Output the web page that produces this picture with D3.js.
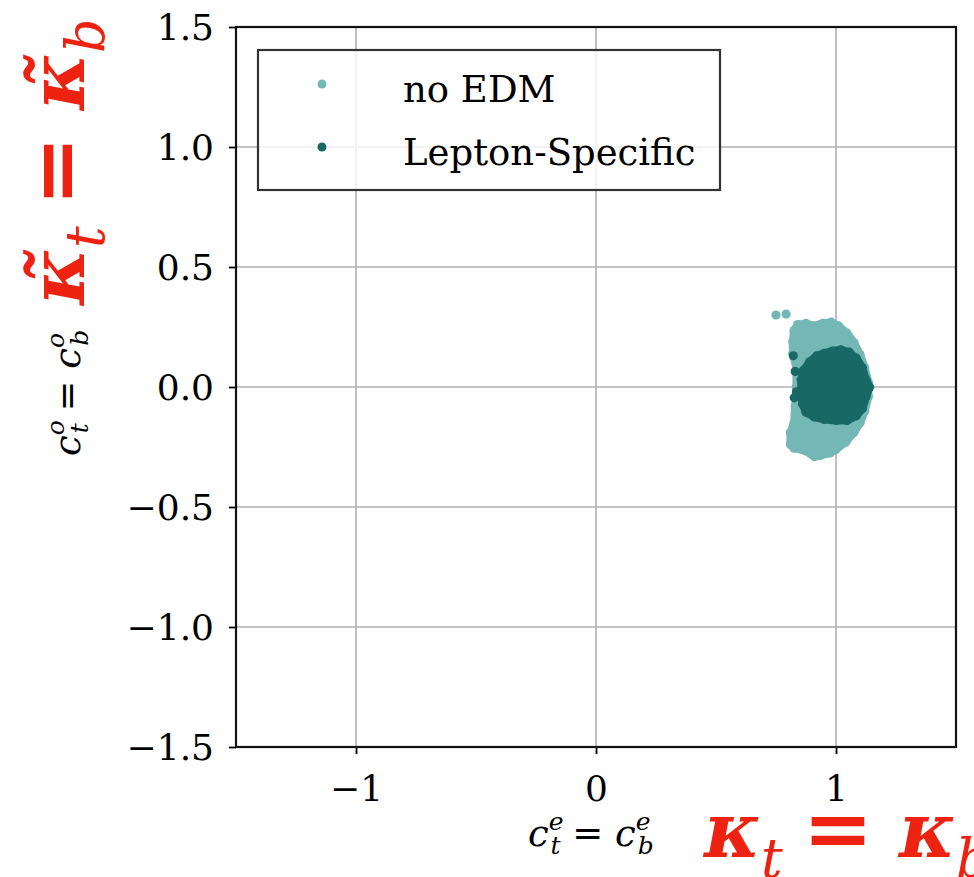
<!DOCTYPE html>
<html><head><meta charset="utf-8">
<script src="https://cdn.jsdelivr.net/npm/d3@7"></script>
<style>body{margin:0;background:#fff}svg{display:block}</style>
</head><body>
<svg id="c" width="974" height="877"></svg>
<script>
// ---- data ----
const xTicks = [-1, 0, 1];
const yTicks = [-1.5, -1.0, -0.5, 0.0, 0.5, 1.0, 1.5];
const yTickLabels = ["\u22121.5", "\u22121.0", "\u22120.5", "0.0", "0.5", "1.0", "1.5"];
const xTickLabels = ["\u22121", "0", "1"];
const seriesNames = ["no EDM", "Lepton-Specific"];
const seriesColors = ["#74b8b6", "#186965"];
// outline of the dense point cloud (marker centres), clockwise
const noEdmOutline = [[0.84,0.26],[0.875,0.265],[0.905,0.255],[0.945,0.265],[0.98,0.27],[1.01,0.255],[1.045,0.225],[1.075,0.185],[1.10,0.135],[1.12,0.08],[1.135,0.02],[1.135,-0.04],[1.12,-0.10],[1.10,-0.15],[1.075,-0.19],[1.04,-0.23],[1.0,-0.26],[0.975,-0.275],[0.935,-0.285],[0.91,-0.29],[0.87,-0.265],[0.825,-0.255],[0.81,-0.24],[0.81,-0.19],[0.825,-0.15],[0.83,-0.08],[0.835,0.0],[0.835,0.08],[0.82,0.14],[0.82,0.19],[0.825,0.235]];
const noEdmExtra = [[0.75,0.30],[0.792,0.304]];
const leptonOutline = [[0.95,0.14],[0.985,0.15],[1.02,0.155],[1.055,0.145],[1.085,0.12],[1.11,0.08],[1.125,0.03],[1.14,0.0],[1.125,-0.04],[1.11,-0.09],[1.085,-0.12],[1.045,-0.14],[1.0,-0.14],[0.95,-0.135],[0.91,-0.125],[0.875,-0.105],[0.86,-0.07],[0.855,-0.02],[0.855,0.03],[0.865,0.07],[0.89,0.105],[0.92,0.13]];
const leptonExtra = [[0.822,0.13],[0.83,0.065],[0.826,-0.045],[0.835,-0.02]];

// ---- layout ----
const L = 236, R = 956, T = 27, B = 747;
const svg = d3.select("#c");
const x = d3.scaleLinear().domain([-1.5, 1.5]).range([L, R]);
const y = d3.scaleLinear().domain([-1.5, 1.5]).range([B, T]);
const serif = "'DejaVu Serif', 'Liberation Serif', serif";

// grid
const g = svg.append("g");
g.selectAll(".gx").data(xTicks).enter().append("line")
  .attr("x1", d => x(d)).attr("x2", d => x(d)).attr("y1", T).attr("y2", B)
  .attr("stroke", "#b0b0b0").attr("stroke-width", 1.6);
g.selectAll(".gy").data(yTicks).enter().append("line")
  .attr("y1", d => y(d)).attr("y2", d => y(d)).attr("x1", L).attr("x2", R)
  .attr("stroke", "#b0b0b0").attr("stroke-width", 1.6);

// clouds
const line = d3.line().x(d => x(d[0])).y(d => y(d[1])).curve(d3.curveLinearClosed);
function cloud(outline, extra, color) {
  const cg = svg.append("g");
  cg.append("path").attr("d", line(outline)).attr("fill", color)
    .attr("stroke", color).attr("stroke-width", 8).attr("stroke-linejoin", "round");
  cg.selectAll("circle").data(outline.concat(extra)).enter().append("circle")
    .attr("cx", d => x(d[0])).attr("cy", d => y(d[1])).attr("r", 4.6).attr("fill", color);
}
cloud(noEdmOutline, noEdmExtra, seriesColors[0]);
cloud(leptonOutline, leptonExtra, seriesColors[1]);

// axes
const xAxis = d3.axisBottom(x).tickValues(xTicks).tickSize(7).tickFormat((d, i) => xTickLabels[i]);
const yAxis = d3.axisLeft(y).tickValues(yTicks).tickSize(7).tickFormat((d, i) => yTickLabels[i]);
const ax = svg.append("g").attr("transform", `translate(0,${B})`).call(xAxis);
const ay = svg.append("g").attr("transform", `translate(${L},0)`).call(yAxis);
[ax, ay].forEach(a => {
  a.select(".domain").remove();
  a.selectAll(".tick line").attr("stroke", "#000").attr("stroke-width", 1.8);
  a.selectAll(".tick text").attr("font-family", serif).attr("font-size", 36).attr("fill", "#000");
});
ax.selectAll(".tick text").attr("dy", null).attr("y", 54);
ay.selectAll(".tick text").attr("x", -22).attr("dy", "0.36em");
// spines
svg.append("rect").attr("x", L).attr("y", T).attr("width", R - L).attr("height", B - T)
  .attr("fill", "none").attr("stroke", "#111").attr("stroke-width", 2.2);

// legend
const lg = svg.append("g");
lg.append("rect").attr("x", 258).attr("y", 50).attr("width", 462).attr("height", 140)
  .attr("fill", "#fff").attr("fill-opacity", 0.8).attr("stroke", "#333").attr("stroke-width", 2.2);
seriesNames.forEach((n, i) => {
  const cy = 84 + i * 63;
  lg.append("circle").attr("cx", 322).attr("cy", cy).attr("r", 4.5).attr("fill", seriesColors[i]);
  lg.append("text").attr("x", 403).attr("y", cy + 18).text(n)
    .attr("font-family", serif).attr("font-size", 37).attr("fill", "#000");
});

// axis labels (math style)
function mathLabel(parent, sup) {
  const t = parent.append("text").attr("font-family", serif).attr("font-size", 37).attr("fill", "#000");
  const add = (s, opts) => {
    const ts = t.append("tspan").text(s);
    if (opts.italic) ts.attr("font-style", "italic");
    if (opts.size) ts.attr("font-size", opts.size);
    if (opts.dy) ts.attr("dy", opts.dy);
    if (opts.dx) ts.attr("dx", opts.dx);
    return ts;
  };
  add("c", {italic: true});
  add(sup, {italic: true, size: 25, dy: -16});
  add("t", {italic: true, size: 25, dy: 24, dx: -13});
  add(" = ", {dy: -8});
  add("c", {italic: true});
  add(sup, {italic: true, size: 25, dy: -16});
  add("b", {italic: true, size: 25, dy: 24, dx: -13});
  return t;
}
mathLabel(svg.append("g").attr("transform", "translate(528,846)"), "e");
mathLabel(svg.append("g").attr("transform", "translate(80,456) rotate(-90)"), "o");

// red annotations
const red = "#ee2211";
function kappaLabel(parent, tilde) {
  const t = parent.append("text").attr("font-family", serif).attr("font-size", 76)
    .attr("fill", red).attr("font-style", "italic");
  const k = tilde ? "\u03BA\u0303" : "\u03BA";
  t.append("tspan").text(k).attr("font-weight", "bold");
  t.append("tspan").text("t").attr("font-size", 54).attr("dy", 20);
  t.append("tspan").text("=").attr("dy", -20).attr("dx", 20).attr("font-size", 84)
    .attr("font-style", "normal").attr("font-weight", "bold");
  t.append("tspan").text(k).attr("dx", 26).attr("font-weight", "bold");
  t.append("tspan").text("b").attr("font-size", 54).attr("dy", 20);
  return t;
}
kappaLabel(svg.append("g").attr("transform", "translate(704,857)"), false);
kappaLabel(svg.append("g").attr("transform", "translate(84,305) rotate(-90)"), true);
</script>
</body></html>
